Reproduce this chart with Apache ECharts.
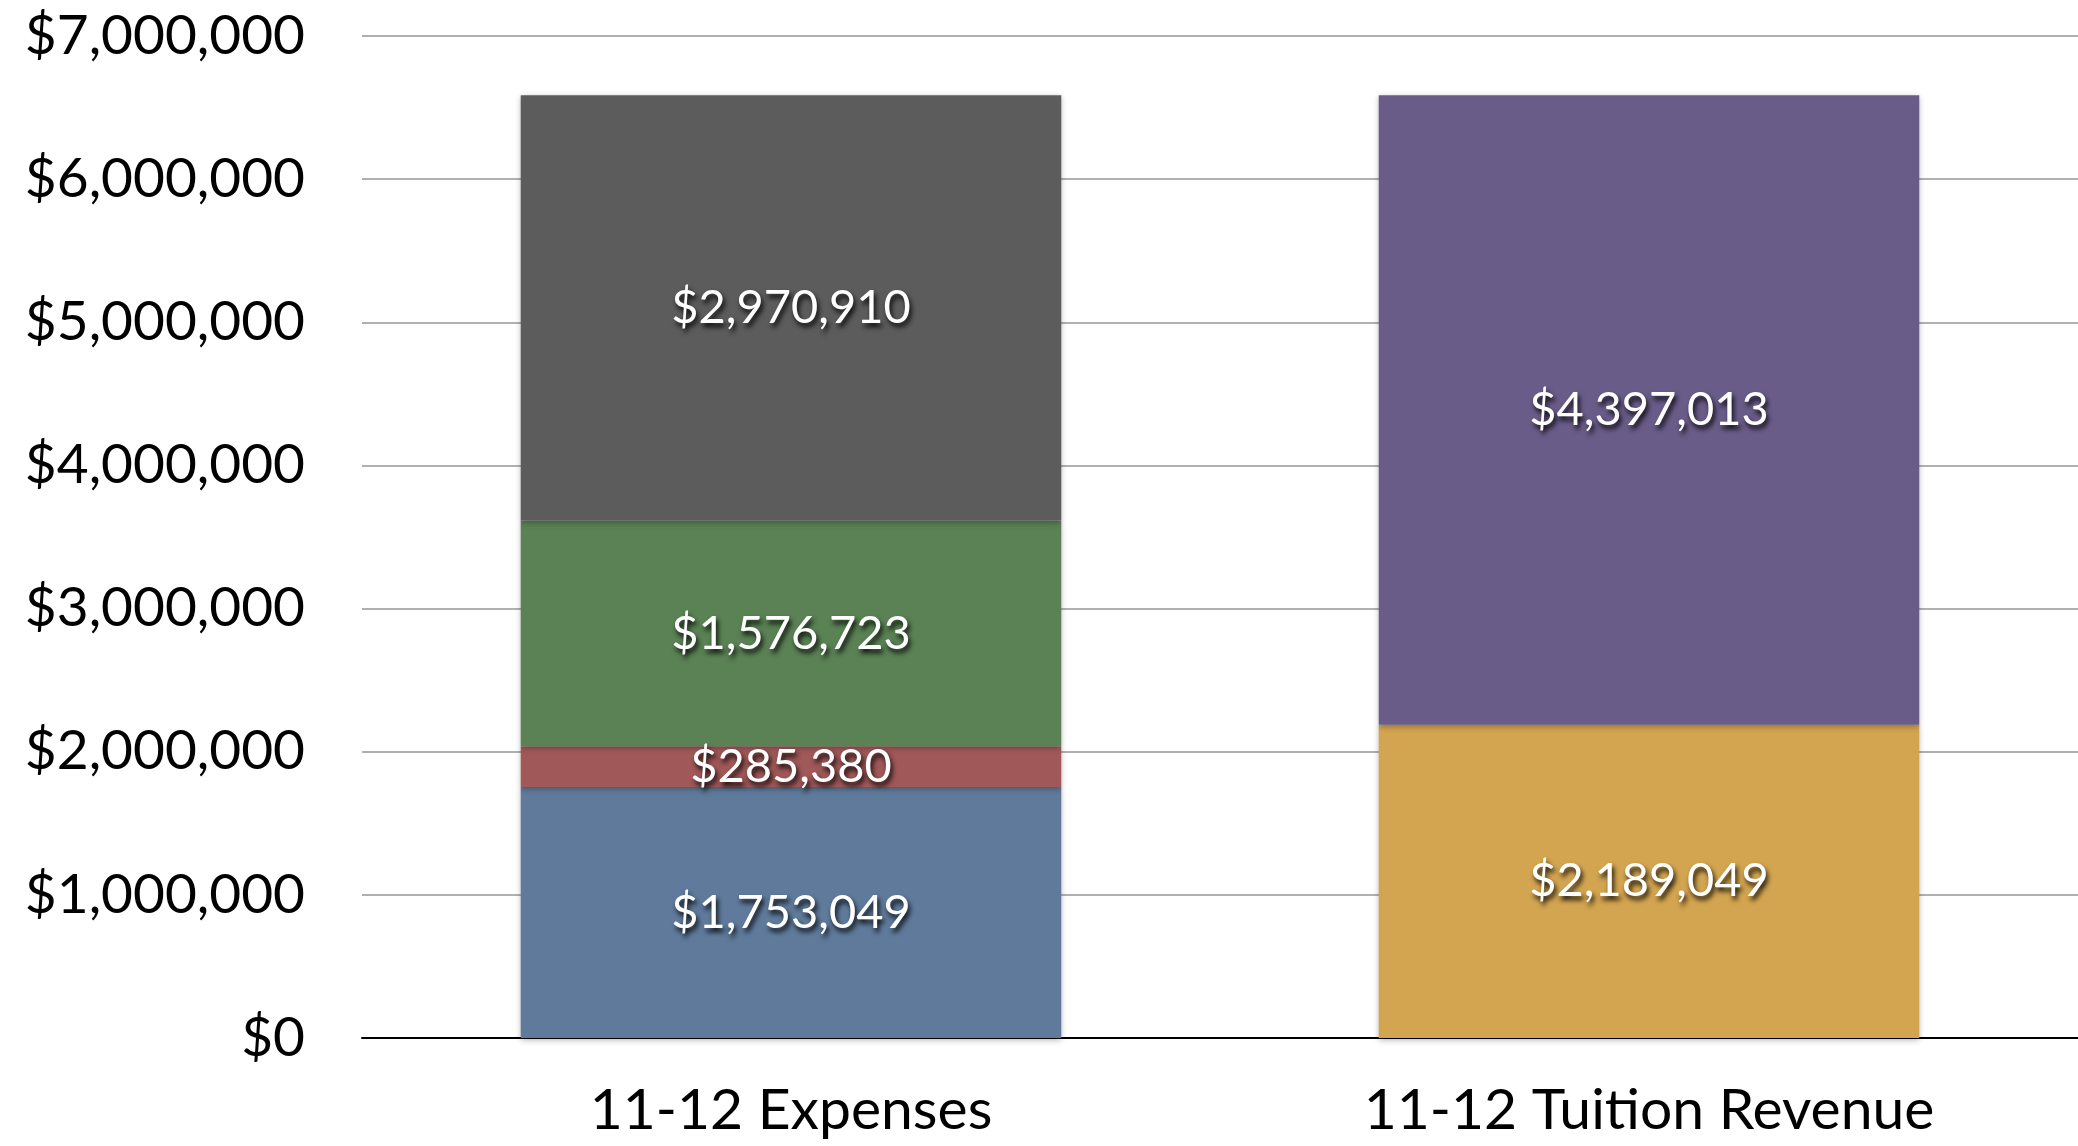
<!DOCTYPE html>
<html>
<head>
<meta charset="utf-8">
<script src="https://cdn.jsdelivr.net/npm/echarts@6/dist/echarts.min.js"></script>
<style>
	html, body { margin: 0; padding: 0; background: #fff; }
	#main { width: 2078px; height: 1146px; }
</style>
</head>
<body>
<div id="main"></div>
<script>
	// data
	var categories = ['11-12 Expenses', '11-12 Tuition Revenue'];
	var expBlue = [1753049, '-'];
	var expRed = [285380, '-'];
	var expGreen = [1576723, '-'];
	var expGray = [2970910, '-'];
	var revGold = ['-', 2189049];
	var revPurple = ['-', 4397013];

	function money(v) {
		return '$' + Number(v).toLocaleString('en-US');
	}

	var font = 'Lato, "Open Sans", sans-serif';

	function seg(data, color) {
		return {
			type: 'bar',
			stack: 'total',
			barWidth: '63%',
			data: data,
			itemStyle: {
				color: color,
				shadowBlur: 6,
				shadowColor: 'rgba(0,0,0,0.3)',
				shadowOffsetY: 2
			},
			label: {
				show: true,
				position: 'inside',
				formatter: function (p) { return money(p.value); },
				color: '#fff',
				fontFamily: font,
				fontSize: 47,
				textShadowColor: 'rgba(0,0,0,0.9)',
				textShadowBlur: 5,
				textShadowOffsetX: 2,
				textShadowOffsetY: 4
			}
		};
	}

	var chart = echarts.init(document.getElementById('main'));
	var option = {
		animation: false,
		grid: { left: 362, right: 0, top: 36, bottom: 108 },
		xAxis: {
			type: 'category',
			data: categories,
			axisLine: { lineStyle: { color: '#000', width: 2 } },
			axisTick: { show: false },
			axisLabel: { color: '#000', fontFamily: font, fontSize: 57, margin: 44 }
		},
		yAxis: {
			type: 'value',
			min: 0,
			max: 7000000,
			interval: 1000000,
			axisLine: { show: false },
			axisTick: { show: false },
			splitLine: { lineStyle: { color: '#b0b0b0', width: 2 } },
			axisLabel: {
				color: '#000',
				fontFamily: font,
				fontSize: 55,
				margin: 57,
				formatter: money
			}
		},
		series: [
			seg(expBlue, '#5f7a9b'),
			seg(expRed, '#a05858'),
			seg(expGreen, '#5a8254'),
			seg(expGray, '#5c5c5c'),
			seg(revGold, '#d3a550'),
			seg(revPurple, '#6a5c89')
		]
	};
	chart.setOption(option);
</script>
</body>
</html>
